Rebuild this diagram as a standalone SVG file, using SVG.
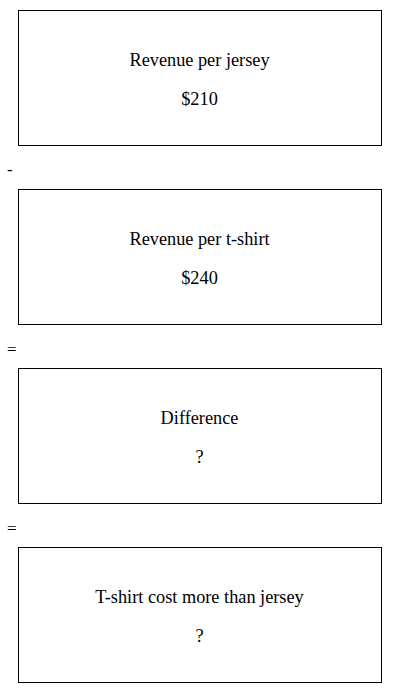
<svg xmlns="http://www.w3.org/2000/svg" width="400" height="693" viewBox="0 0 400 693">
  <style>
    .box { fill: #ffffff; stroke: #000000; stroke-width: 1; }
    .t { font-family: "Liberation Serif", "DejaVu Serif", serif; font-size: 18.3px; fill: #000000; text-anchor: middle; }
    .op { font-family: "Liberation Serif", "DejaVu Serif", serif; font-size: 17px; fill: #000000; text-anchor: start; }
  </style>
  <rect width="400" height="693" fill="#ffffff"/>
  <g id="node-jersey">
    <rect class="box" x="18.5" y="10.5" width="363" height="135"/>
    <text class="t" x="199.5" y="66">Revenue per jersey</text>
    <text class="t" x="199.5" y="105">$210</text>
  </g>
  <g id="node-tshirt">
    <rect class="box" x="18.5" y="189.5" width="363" height="135"/>
    <text class="t" x="199.5" y="245">Revenue per t-shirt</text>
    <text class="t" x="199.5" y="284">$240</text>
  </g>
  <g id="node-difference">
    <rect class="box" x="18.5" y="368.5" width="363" height="135"/>
    <text class="t" x="199.5" y="424">Difference</text>
    <text class="t" x="199.5" y="463">?</text>
  </g>
  <g id="node-result">
    <rect class="box" x="18.5" y="547.5" width="363" height="135"/>
    <text class="t" x="199.5" y="603">T-shirt cost more than jersey</text>
    <text class="t" x="199.5" y="642">?</text>
  </g>
  <g id="connectors">
    <text class="op" x="7" y="175">-</text>
    <text class="op" x="7" y="355">=</text>
    <text class="op" x="7" y="534">=</text>
  </g>
</svg>
